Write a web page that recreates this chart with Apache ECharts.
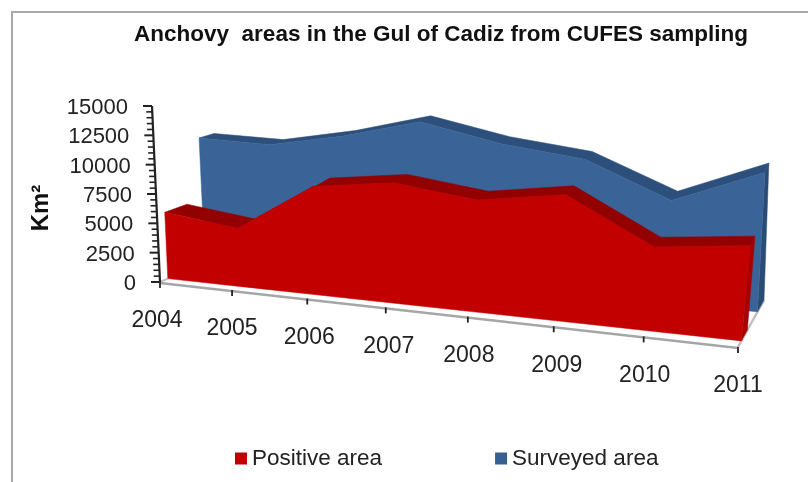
<!DOCTYPE html>
<html><head><meta charset="utf-8">
<style>html,body{margin:0;padding:0;background:#fff}#c{width:808px;height:482px}</style>
<script src="https://cdn.jsdelivr.net/npm/echarts@6/dist/echarts.min.js"></script>
</head><body><div id="c"></div>
<script>
const years = ['2004','2005','2006','2007','2008','2009','2010','2011'];
const positiveArea = [5700,4880,8860,9600,8700,9600,6200,6860];
const surveyedArea = [11140,10820,11840,13300,11760,10800,7950,10430];
const yTickLabels = [0,2500,5000,7500,10000,12500,15000];
const minorStep = 500;

// perspective frame: axis plane (d=0) and back plane (d=1)
const K = 1.17;
const F = {bl:[160,282], tl:[152,106], br:[738,347], tr:[760,137]};
const B = {bl:[220,256], tl:[212,91],  br:[764,300], tr:[771,103]};
const lerp=(a,b,t)=>[a[0]+(b[0]-a[0])*t,a[1]+(b[1]-a[1])*t];
function proj(api,params,x,y,d){
  const c=api.coord([x,y]), g=params.coordSys;
  const u=(c[0]-g.x)/g.width, v=(g.y+g.height-c[1])/g.height;
  const s=u/(u+(1-u)*K);
  const f=lerp(lerp(F.bl,F.br,s),lerp(F.tl,F.tr,s),v);
  const b=lerp(lerp(B.bl,B.br,s),lerp(B.tl,B.tr,s),v);
  const dd=Array.isArray(d)?d[0]+(d[1]-d[0])*s:d;
  return lerp(f,b,dd);
}
const poly=(pts,fill)=>({type:'polygon',shape:{points:pts},style:{fill:fill,stroke:fill,lineWidth:0.5}});
const line=(a,b,col,w)=>({type:'line',shape:{x1:a[0],y1:a[1],x2:b[0],y2:b[1]},style:{stroke:col,lineWidth:w}});

function areaRender(values,d0,d1,front,top,side){
  return function(params,api){
    if(params.dataIndex!==0) return null;
    const n=values.length, P=(i,v,d)=>proj(api,params,i,v,d);
    const fr=[],bk=[],fb=[];
    for(let i=0;i<n;i++){fr.push(P(i,values[i],d0));bk.push(P(i,values[i],d1));fb.push(P(i,0,d0));}
    const ch=[];
    ch.push(poly(fr.concat(bk.slice().reverse()),top));
    ch.push(poly([fb[n-1],fr[n-1],bk[n-1],P(n-1,0,d1)],side));
    ch.push(poly(fr.concat(fb.slice().reverse()),front));
    return {type:'group',children:ch};
  };
}
function floorRender(params,api){
  if(params.dataIndex!==0) return null;
  const n=years.length-1,P=(i,d)=>proj(api,params,i,0,d);
  const a=P(0,0),b=P(n,0),c=P(n,1),e=P(0,1);
  return {type:'group',children:[
    poly([a,b,c,e],'#ffffff'),
    line([a[0],a[1]+1],[b[0],b[1]+1],'#a6a6a6',2.5),
    line(b,c,'#bfbfbf',2.5),
    line(a,lerp(a,e,0.13),'#bfbfbf',2)
  ]};
}
function xAxisRender(params,api){
  const i=api.value(0), p=proj(api,params,i,0,0);
  const adj=[-3,0,2,3,1,3,1,0][i];
  return {type:'group',children:[
    line(p,[p[0],p[1]+6],'#222',1.8),
    {type:'text',x:p[0]+adj,y:p[1]+39,style:{text:years[i],fontFamily:'"Liberation Sans",Arial,sans-serif',fontSize:23,fill:'#222',align:'center',verticalAlign:'middle'}}
  ]};
}
function yAxisRender(params,api){
  const v=api.value(1), p=proj(api,params,0,v,0);
  const major=yTickLabels.indexOf(v)>=0;
  const ch=[line(p,[p[0]-(major?9:6),p[1]],'#222',major?2:1.6)];
  if(major) ch.push({type:'text',x:p[0]-24,y:p[1]+2,style:{text:String(v),fontFamily:'"Liberation Sans",Arial,sans-serif',fontSize:22,fill:'#222',align:'right',verticalAlign:'middle'}});
  if(v===0){const t=proj(api,params,0,15000,0);ch.push(line(p,t,'#222',2.2));}
  return {type:'group',children:ch};
}
const minorVals=[];for(let v=0;v<=15000;v+=minorStep)minorVals.push(v);
const base={type:'custom',coordinateSystem:'cartesian2d',animation:false,silent:true,clip:false};

const chart=echarts.init(document.getElementById('c'),null,{renderer:'canvas'});
chart.setOption({
  animation:false,
  backgroundColor:'#ffffff',
  title:{text:'Anchovy  areas in the Gul of Cadiz from CUFES sampling',left:436,top:18,textAlign:'center',
    textStyle:{fontFamily:'"Liberation Sans",Arial,sans-serif',fontWeight:'bold',fontSize:22.5,color:'#111'}},
  legend:{data:[{name:'Positive area'},{name:'Surveyed area'}],left:230,top:442,itemWidth:12,itemHeight:12,itemGap:113,icon:'rect',selectedMode:false,
    textStyle:{fontFamily:'"Liberation Sans",Arial,sans-serif',fontSize:22.5,color:'#222'}},
  grid:{left:100,right:100,top:100,bottom:100,show:false},
  xAxis:{type:'category',data:years,boundaryGap:false,show:false},
  yAxis:{type:'value',min:0,max:15000,interval:2500,show:false,splitLine:{show:false}},
  graphic:[
    {type:'rect',shape:{x:12,y:12,width:900,height:600},style:{fill:'none',stroke:'#a9a9a9',lineWidth:2},z:-1},
    {type:'text',x:41,y:208,rotation:Math.PI/2,style:{text:'Km²',fontFamily:'"Liberation Sans",Arial,sans-serif',fontWeight:'bold',fontSize:24,fill:'#111',align:'center',verticalAlign:'middle'},z:5}
  ],
  series:[
    Object.assign({},base,{name:'floor',z:1,renderItem:floorRender,data:[[0,0]]}),
    Object.assign({},base,{name:'Surveyed area',z:2,itemStyle:{color:'#376092'},renderItem:areaRender(surveyedArea,0.75,1,'#3a6497','#2c4f7c','#2a4b75'),data:surveyedArea.map((v,i)=>[i,v])}),
    Object.assign({},base,{name:'Positive area',z:3,itemStyle:{color:'#c00000'},renderItem:areaRender(positiveArea,0.13,[0.5,0.36],'#c30000','#930000','#a80000'),data:positiveArea.map((v,i)=>[i,v])}),
    Object.assign({},base,{name:'xticks',z:4,renderItem:xAxisRender,data:years.map((y,i)=>[i,0])}),
    Object.assign({},base,{name:'yticks',z:4,renderItem:yAxisRender,data:minorVals.map(v=>[0,v])})
  ]
});
</script></body></html>
